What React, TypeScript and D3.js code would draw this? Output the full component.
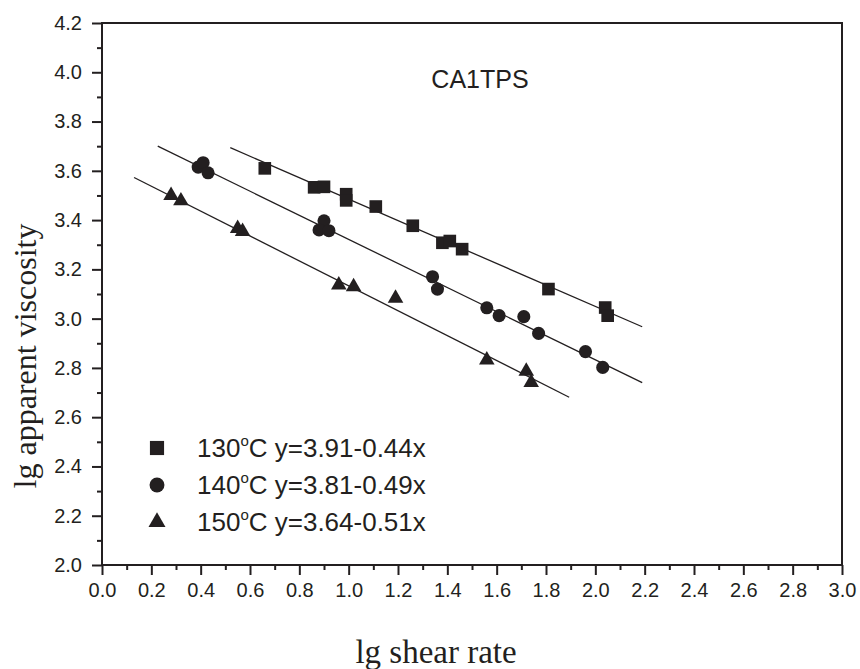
import { useEffect, useRef } from 'react';
import * as d3 from 'd3';

// lg shear rate / lg apparent viscosity
const shear130 = [0.66, 0.86, 0.90, 0.99, 0.99, 1.11, 1.26, 1.38, 1.41, 1.46, 1.81, 2.04, 2.05];
const visc130 = [3.61, 3.533, 3.535, 3.505, 3.48, 3.455, 3.377, 3.308, 3.315, 3.282, 3.12, 3.045, 3.012];

const shear140 = [0.39, 0.41, 0.43, 0.90, 0.88, 0.92, 1.34, 1.36, 1.56, 1.61, 1.71, 1.77, 1.96, 2.03];
const visc140 = [3.615, 3.633, 3.592, 3.397, 3.36, 3.357, 3.17, 3.12, 3.044, 3.012, 3.008, 2.94, 2.866, 2.802];

const shear150 = [0.28, 0.32, 0.55, 0.57, 0.96, 1.02, 1.19, 1.56, 1.72, 1.74];
const visc150 = [3.50, 3.478, 3.366, 3.354, 3.137, 3.129, 3.083, 2.832, 2.786, 2.741];

// fitted lines: [x start, x end] and [y start, y end]
const fitX130 = [0.52, 2.19];
const fitY130 = [3.694, 2.967];
const fitX140 = [0.226, 2.19];
const fitY140 = [3.70, 2.74];
const fitX150 = [0.13, 1.894];
const fitY150 = [3.573, 2.681];

const tempLabels = ['130', '140', '150'];
const equations = ['y=3.91-0.44x', 'y=3.81-0.49x', 'y=3.64-0.51x'];

const xTicks = d3.range(0, 3.01, 0.2).map(v => +v.toFixed(1));
const yTicks = d3.range(2, 4.21, 0.2).map(v => +v.toFixed(1));

export default function App() {
  const svgRef = useRef(null);

  useEffect(() => {
    const width = 860;
    const height = 669;
    const margin = { top: 23, right: 18, bottom: 104, left: 102 };
    const ink = '#231f20';
    const sans = '"Liberation Sans", Arial, sans-serif';
    const serif = '"Liberation Serif", "Times New Roman", serif';

    const svg = d3.select(svgRef.current);
    svg.selectAll('*').remove();

    const x = d3.scaleLinear().domain([0, 3]).range([margin.left, width - margin.right]);
    const y = d3.scaleLinear().domain([2, 4.2]).range([height - margin.bottom, margin.top]);

    // minor ticks
    const minorX = d3.range(0.1, 3, 0.2).map(v => +v.toFixed(1));
    const minorY = d3.range(2.1, 4.2, 0.2).map(v => +v.toFixed(1));

    const bottomMinor = svg.append('g')
      .attr('transform', `translate(0,${y(2)})`)
      .call(d3.axisBottom(x).tickValues(minorX).tickSize(5).tickFormat(() => '').tickSizeOuter(0));
    const leftMinor = svg.append('g')
      .attr('transform', `translate(${x(0)},0)`)
      .call(d3.axisLeft(y).tickValues(minorY).tickSize(5).tickFormat(() => '').tickSizeOuter(0));
    [bottomMinor, leftMinor].forEach(g => {
      g.select('.domain').remove();
      g.selectAll('line').attr('stroke', ink).attr('stroke-width', 2);
    });

    const bottom = svg.append('g')
      .attr('transform', `translate(0,${y(2)})`)
      .call(d3.axisBottom(x).tickValues(xTicks).tickSize(10).tickPadding(8)
        .tickFormat(d3.format('.1f')).tickSizeOuter(0));
    const left = svg.append('g')
      .attr('transform', `translate(${x(0)},0)`)
      .call(d3.axisLeft(y).tickValues(yTicks).tickSize(10).tickPadding(10)
        .tickFormat(d3.format('.1f')).tickSizeOuter(0));
    [bottom, left].forEach(g => {
      g.select('.domain').remove();
      g.selectAll('line').attr('stroke', ink).attr('stroke-width', 2);
      g.selectAll('text')
        .attr('fill', ink)
        .attr('font-family', sans)
        .attr('font-size', 20);
    });

    // frame
    svg.append('rect')
      .attr('x', x(0))
      .attr('y', y(4.2))
      .attr('width', x(3) - x(0))
      .attr('height', y(2) - y(4.2))
      .attr('fill', 'none')
      .attr('stroke', ink)
      .attr('stroke-width', 2);

    // fit lines
    const fits = [[fitX130, fitY130], [fitX140, fitY140], [fitX150, fitY150]];
    const line = d3.line().x(d => x(d[0])).y(d => y(d[1]));
    fits.forEach(([fx, fy]) => {
      svg.append('path')
        .datum(fx.map((v, i) => [v, fy[i]]))
        .attr('fill', 'none')
        .attr('stroke', ink)
        .attr('stroke-width', 1.3)
        .attr('d', line);
    });

    // points
    const series = [
      { xs: shear130, ys: visc130, type: d3.symbolSquare, size: 160, legendSize: 200 },
      { xs: shear140, ys: visc140, type: d3.symbolCircle, size: 135, legendSize: 175 },
      { xs: shear150, ys: visc150, type: d3.symbolTriangle, size: 105, legendSize: 125 },
    ];
    series.forEach(s => {
      const sym = d3.symbol().type(s.type).size(s.size);
      svg.append('g')
        .selectAll('path')
        .data(s.xs.map((v, i) => [v, s.ys[i]]))
        .join('path')
        .attr('transform', d => `translate(${x(d[0])},${y(d[1])})`)
        .attr('d', sym())
        .attr('fill', ink);
    });

    // sample name
    svg.append('text')
      .attr('x', 480)
      .attr('y', 88)
      .attr('text-anchor', 'middle')
      .attr('font-family', sans)
      .attr('font-size', 25)
      .attr('fill', ink)
      .text('CA1TPS');

    // legend
    series.forEach((s, i) => {
      const cy = 448 + i * 37;
      svg.append('path')
        .attr('transform', `translate(157,${cy})`)
        .attr('d', d3.symbol().type(s.type).size(s.legendSize)())
        .attr('fill', ink);
      const t = svg.append('text')
        .attr('x', 197)
        .attr('y', cy + 9)
        .attr('font-family', sans)
        .attr('font-size', 26)
        .attr('fill', ink);
      t.append('tspan').text(tempLabels[i]);
      t.append('tspan').attr('font-size', 15).attr('dy', -11).text('o');
      t.append('tspan').attr('dy', 11).text(`C ${equations[i]}`);
    });

    // axis titles
    svg.append('text')
      .attr('x', 436)
      .attr('y', 663)
      .attr('text-anchor', 'middle')
      .attr('font-family', serif)
      .attr('font-size', 33)
      .attr('fill', ink)
      .text('lg shear rate');

    svg.append('text')
      .attr('transform', 'translate(36,356) rotate(-90)')
      .attr('text-anchor', 'middle')
      .attr('font-family', serif)
      .attr('font-size', 32)
      .attr('fill', ink)
      .text('lg apparent viscosity');
  }, []);

  return (
    <svg
      ref={svgRef}
      width={860}
      height={669}
      viewBox="0 0 860 669"
      style={{ position: 'absolute', left: 0, top: 0, background: '#fff' }}
    />
  );
}
